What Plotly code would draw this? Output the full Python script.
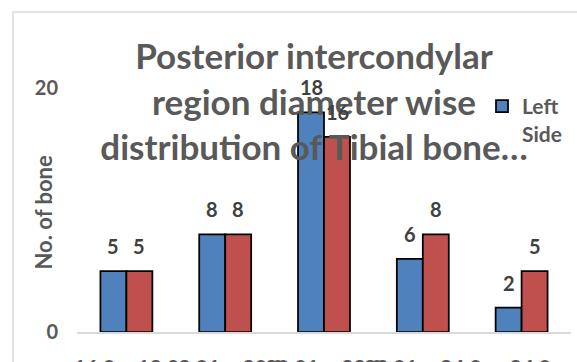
import plotly.graph_objects as go

# Diameter classes (mm) and bone counts per side
categories = ["16.0 – 18.0", "18.01 – 20.0", "20.01 – 22.0", "22.01 – 24.0", "> 24.0"]
left_side = [5, 8, 18, 6, 2]
right_side = [5, 8, 16, 8, 5]

BLUE = "#4F81BD"
RED = "#C0504D"
GREY = "#595959"
LABEL = "#404040"
FONT = "Lato"

fig = go.Figure()
fig.add_trace(go.Bar(
    name="Left<br>Side", x=categories, y=left_side,
    marker=dict(color=BLUE, line=dict(color="black", width=1.75)),
))
fig.add_trace(go.Bar(
    name="Right<br>Side", x=categories, y=right_side, showlegend=False,
    marker=dict(color=RED, line=dict(color="black", width=1.75)),
))

# Value labels above each bar
for values, dx in ((left_side, -13), (right_side, 13)):
    for cat, v in zip(categories, values):
        fig.add_annotation(
            x=cat, y=v, text=str(v), showarrow=False,
            xshift=dx, yshift=25, yanchor="middle",
            font=dict(family=FONT, size=20, color=LABEL, weight="bold"),
        )

# Y-axis title
fig.add_annotation(
    xref="paper", yref="paper", x=(42.5 - 77) / 494, y=(332 - 212) / 244,
    text="No. of bone", textangle=-90, showarrow=False,
    xanchor="center", yanchor="middle",
    font=dict(family=FONT, size=22, color=GREY, weight="bold"),
)

# Chart area outline
fig.add_shape(
    type="rect", xref="paper", yref="paper",
    x0=(13 - 77) / 494, x1=1.2, y0=-0.5, y1=(332 - 12) / 244,
    line=dict(color="#D9D9D9", width=1.5), layer="below",
)

fig.update_layout(
    width=577, height=362,
    margin=dict(l=77, r=6, t=88, b=30),
    paper_bgcolor="white", plot_bgcolor="white",
    barmode="group", bargap=0.474, bargroupgap=0,
    title=dict(
        text="Posterior intercondylar<br>region diameter wise<br>distribution of Tibial bone…",
        x=314 / 577, xanchor="center", xref="container",
        y=1 - 69 / 362, yanchor="middle", yref="container",
        font=dict(family=FONT, size=35, color=GREY, weight="bold"),
    ),
    legend=dict(
        x=(482 - 77) / 494, y=(332 - 86) / 244, xanchor="left", yanchor="top",
        valign="top", bgcolor="rgba(0,0,0,0)",
        font=dict(family=FONT, size=21, color=GREY, weight="bold"),
        itemwidth=30,
    ),
    xaxis=dict(
        showline=True, linecolor="#D9D9D9", linewidth=1.5,
        showgrid=False, ticks="", tickangle=0,
        tickfont=dict(family=FONT, size=21, color=GREY, weight="bold"),
        ticklabelstandoff=16, automargin=False,
    ),
    yaxis=dict(
        range=[0, 20], tickvals=[0, 20], showgrid=False, zeroline=False,
        showline=False, ticks="",
        tickfont=dict(family=FONT, size=20, color=GREY, weight="bold"),
        ticklabelstandoff=18, automargin=False,
    ),
)

fig.write_html("out.html")
